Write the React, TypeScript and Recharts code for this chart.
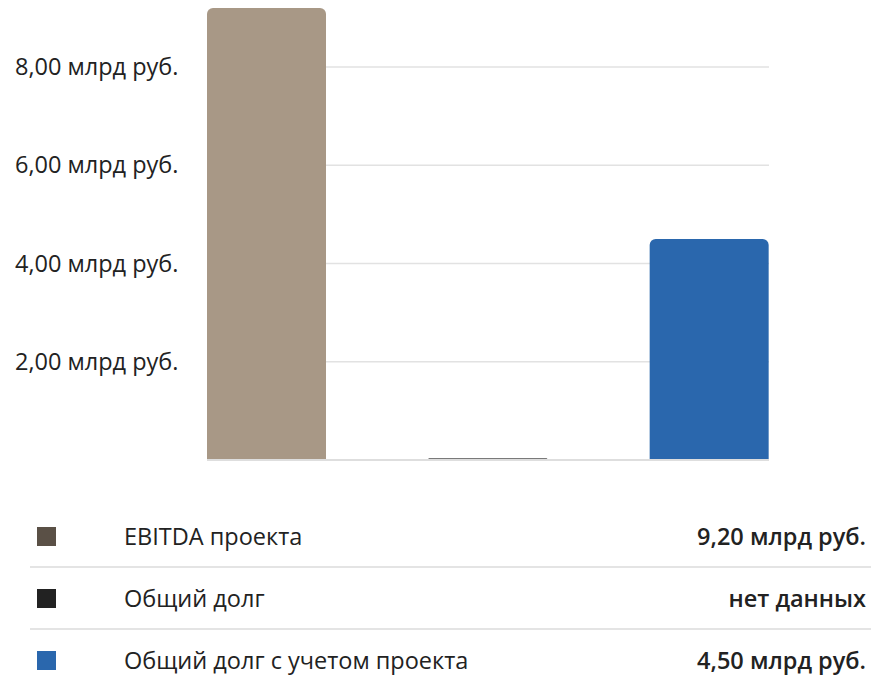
import React from 'react';
import { BarChart, Bar, XAxis, YAxis, CartesianGrid, Cell } from 'recharts';

const categories = ['EBITDA проекта', 'Общий долг', 'Общий долг с учетом проекта'];
const values = [9.2, 0, 4.5];
const valueLabels = ['9,20 млрд руб.', 'нет данных', '4,50 млрд руб.'];
const barColors = ['#a89886', '#7a7a7a', '#2a67ad'];
const legendColors = ['#5a5046', '#222222', '#2a67ad'];
const yTicks = [2, 4, 6, 8];

const data = categories.map((name, i) => ({ name, value: values[i] }));

const FONT = '"Open Sans", "Noto Sans", sans-serif';

const fmt = (v: number) => `${v.toFixed(2).replace('.', ',')} млрд руб.`;

const YTick = ({ y, payload }: any) => (
  <text x={15} y={y} dy="0.35em" textAnchor="start" fill="#222" fontSize={23.5} fontFamily={FONT}>
    {fmt(payload.value)}
  </text>
);

export default function App() {
  return (
    <div style={{ position: 'absolute', top: 0, left: 0, width: 871, height: 675, overflow: 'hidden', fontFamily: FONT, background: '#fff' }}>
      <BarChart
        width={871}
        height={480}
        data={data}
        margin={{ top: 8, right: 102, left: 0, bottom: 0 }}
        barSize={119}
      >
        <CartesianGrid vertical={false} stroke="#e2e2e2" strokeWidth={1.5} syncWithTicks />
        <XAxis
          dataKey="name"
          tick={false}
          tickLine={false}
          axisLine={{ stroke: '#dedede', strokeWidth: 2 }}
          padding={{ left: -51, right: -51 }}
          height={20}
        />
        <YAxis
          width={207}
          domain={[0, 9.2]}
          ticks={yTicks}
          axisLine={false}
          tickLine={false}
          tick={<YTick />}
        />
        <Bar dataKey="value" radius={[6, 6, 0, 0]} minPointSize={2} isAnimationActive={false}>
          {data.map((d, i) => (
            <Cell key={d.name} fill={barColors[i]} />
          ))}
        </Bar>
      </BarChart>
      <div style={{ position: 'absolute', top: 506, left: 30, right: 0 }}>
        {categories.map((name, i) => (
          <div
            key={name}
            style={{
              height: 60,
              display: 'flex',
              alignItems: 'center',
              borderBottom: i < categories.length - 1 ? '2px solid #e4e4e4' : 'none',
              fontSize: 23.5,
              color: '#222',
            }}
          >
            <div style={{ width: 19, height: 19, background: legendColors[i], marginLeft: 7 }} />
            <div style={{ marginLeft: 68, flex: 1 }}>{name}</div>
            <div style={{ fontWeight: 600, marginRight: 5 }}>{valueLabels[i]}</div>
          </div>
        ))}
      </div>
    </div>
  );
}
